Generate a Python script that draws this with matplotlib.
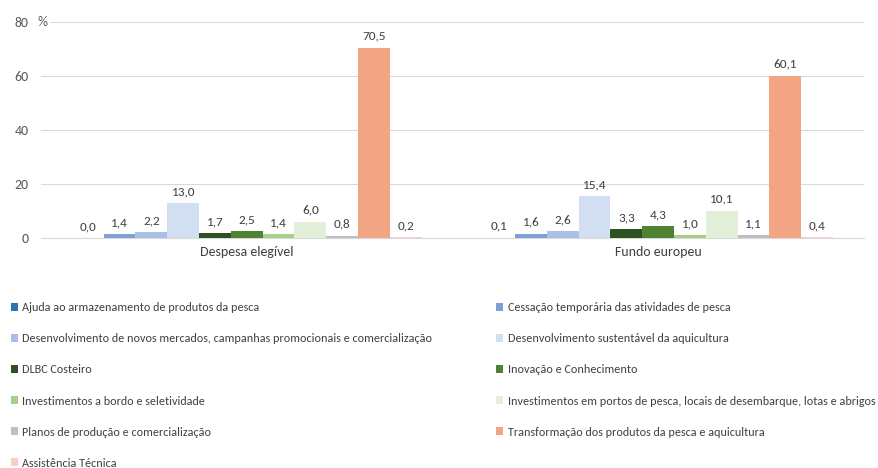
import matplotlib
matplotlib.use("Agg")
import matplotlib.pyplot as plt
from matplotlib.patches import Patch
import numpy as np

plt.rcParams['font.family'] = ['Carlito', 'Roboto Condensed', 'DejaVu Sans']

groups = ["Despesa elegível", "Fundo europeu"]
series = [
    "Ajuda ao armazenamento de produtos da pesca",
    "Cessação temporária das atividades de pesca",
    "Desenvolvimento de novos mercados, campanhas promocionais e comercialização",
    "Desenvolvimento sustentável da aquicultura",
    "DLBC Costeiro",
    "Inovação e Conhecimento",
    "Investimentos a bordo e seletividade",
    "Investimentos em portos de pesca, locais de desembarque, lotas e abrigos",
    "Planos de produção e comercialização",
    "Transformação dos produtos da pesca e aquicultura",
    "Assistência Técnica",
]
despesa = [0.0, 1.4, 2.2, 13.0, 1.7, 2.5, 1.4, 6.0, 0.8, 70.5, 0.2]
fundo = [0.1, 1.6, 2.6, 15.4, 3.3, 4.3, 1.0, 10.1, 1.1, 60.1, 0.4]
colors = ["#2E75B6", "#7F9FD6", "#A9C0E6", "#D2DEF1", "#2F5020", "#4F8232",
          "#A6D08A", "#E2EFD9", "#BFBFBF", "#F2A483", "#F8CFC0"]
yticks = [0, 20, 40, 60, 80]

fig = plt.figure(figsize=(8.79, 4.68), dpi=100)
ax = fig.add_axes([0.0467, 0.4915, 0.936, 0.4615])

n = len(series)
gw = 0.85
bw = gw / n
x = np.arange(len(groups))
for i in range(n):
    vals = [despesa[i], fundo[i]]
    pos = x - gw / 2 + bw * (i + 0.5)
    ax.bar(pos, vals, width=bw, color=colors[i], zorder=3)
    for p, v in zip(pos, vals):
        ax.text(p, v + 2.2, f"{v:.1f}".replace(".", ","), ha="center", va="bottom",
                fontsize=9.5, color="#404040")

ax.set_xlim(-0.5, 1.5)
ax.set_ylim(0, 80)
ax.set_yticks(yticks)
ax.set_yticklabels([str(t) for t in yticks], fontsize=10, color="#595959")
ax.set_xticks(x)
ax.set_xticklabels(groups, fontsize=10, color="#404040")
ax.tick_params(axis="both", length=0)
ax.tick_params(axis="y", pad=9)
ax.tick_params(axis="x", pad=6)
ax.grid(axis="y", color="#D9D9D9", linewidth=0.8, zorder=0)
for s in ["top", "right", "left"]:
    ax.spines[s].set_visible(False)
ax.spines["bottom"].set_color("#D9D9D9")
ax.text(-0.004, 80, "%", transform=ax.get_yaxis_transform(), ha="left", va="center",
        fontsize=10, color="#595959", zorder=4,
        bbox=dict(facecolor="white", edgecolor="none", pad=1.5))

handles = [Patch(facecolor=c, edgecolor="none") for c in colors]
left_idx = [0, 2, 4, 6, 8, 10]
right_idx = [1, 3, 5, 7, 9]
common = dict(frameon=False, fontsize=8.7, handlelength=0.62, handleheight=0.62,
              handletextpad=0.36, labelspacing=1.66, borderpad=0, borderaxespad=0,
              labelcolor="#404040")
leg1 = fig.legend([handles[i] for i in left_idx], [series[i] for i in left_idx],
                  loc="upper left", bbox_to_anchor=(0.012, 0.354), **common)
leg2 = fig.legend([handles[i] for i in right_idx], [series[i] for i in right_idx],
                  loc="upper left", bbox_to_anchor=(0.564, 0.354), **common)

fig.savefig("out.png", dpi=100)
